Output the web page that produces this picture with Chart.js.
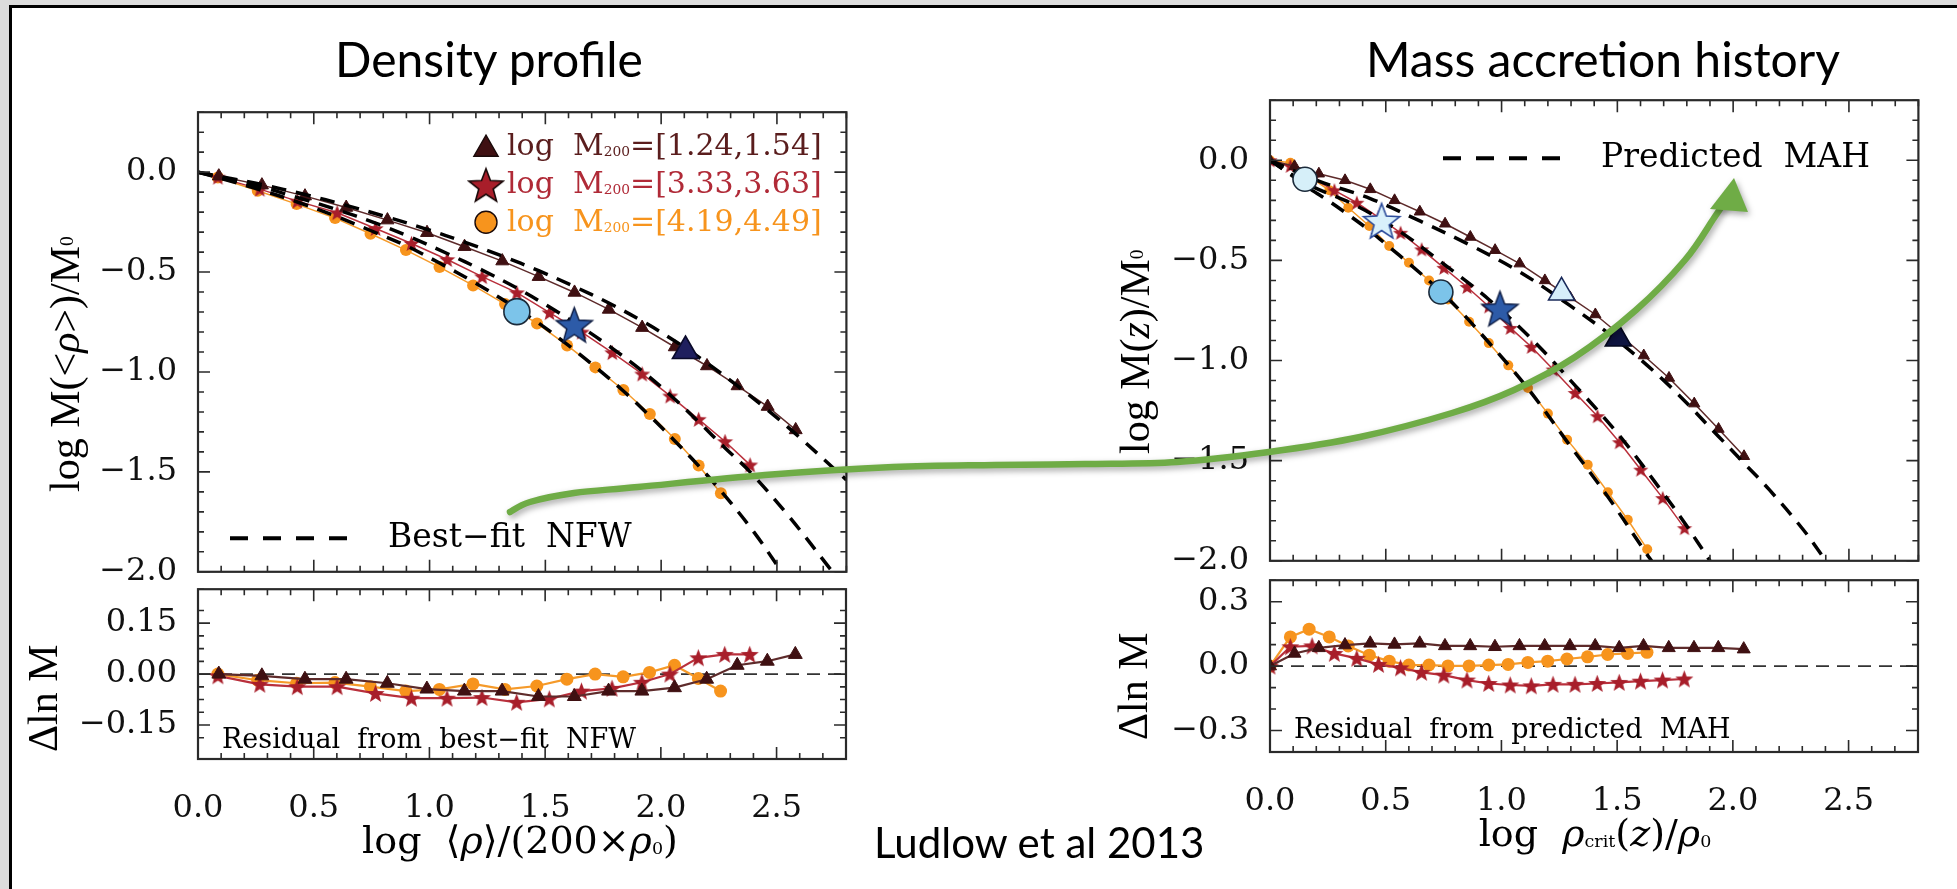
<!DOCTYPE html>
<html>
<head>
<meta charset="utf-8">
<title>Ludlow et al 2013 - density profile vs mass accretion history</title>
<script src="https://cdn.jsdelivr.net/npm/chart.js@4.4.1/dist/chart.umd.min.js"></script>
<style>
  html, body { margin: 0; padding: 0; background: #dcdcdc; overflow: hidden; width: 1957px; height: 889px; }
  #page { position: absolute; left: 9px; top: 5px; width: 1970px; height: 900px; background: #fff; border: 3px solid #000; }
  canvas.panel { position: absolute; z-index: 1; }
  #arrow { position: absolute; left: 0; top: 0; z-index: 3; pointer-events: none; }
  .t { position: absolute; white-space: nowrap; line-height: 1; z-index: 2; color: #000; }
  .sans { font-family: Lato, "Noto Sans", sans-serif; }
  .serif { font-family: "DejaVu Serif", serif; }
  .times { font-family: "Liberation Serif", serif; }
  .sb { font-size: 0.46em; line-height: 0; vertical-align: -0.08em; }
  /* vertical titles: fixed 400px run, text centred in it, reading bottom to top */
  .vt { writing-mode: vertical-rl; transform: rotate(180deg); height: 400px; text-align: center; }
</style>
</head>
<body>
<div id="page"></div>

<canvas id="densMain" class="panel" style="left:68px;top:102px" width="788" height="472"></canvas>
<canvas id="densRes" class="panel" style="left:68px;top:579px" width="788" height="260"></canvas>
<canvas id="mahMain" class="panel" style="left:1140px;top:90px" width="788" height="473"></canvas>
<canvas id="mahRes" class="panel" style="left:1140px;top:570px" width="788" height="262"></canvas>
<canvas id="arrow" width="1957" height="889"></canvas>

<div class="t sans" style="left:489px;top:35px;font-size:48px;transform:translateX(-50%)">Density profile</div>
<div class="t sans" style="left:1603px;top:35px;font-size:48px;transform:translateX(-50%)">Mass accretion history</div>
<div class="t sans" style="left:874px;top:821px;font-size:42px">Ludlow et al 2013</div>

<div class="t serif" style="left:507px;top:130px;font-size:30px;color:#5a1d1d">log&nbsp; M<span class="sb">200</span>=[1.24,1.54]</div>
<div class="t serif" style="left:507px;top:168px;font-size:30px;color:#b02a37">log&nbsp; M<span class="sb">200</span>=[3.33,3.63]</div>
<div class="t serif" style="left:507px;top:206px;font-size:30px;color:#f7941d">log&nbsp; M<span class="sb">200</span>=[4.19,4.49]</div>
<div class="t serif" style="left:388px;top:519px;font-size:33px">Best−fit&nbsp; NFW</div>
<div class="t serif" style="left:1601px;top:139px;font-size:33px">Predicted&nbsp; MAH</div>
<div class="t serif" style="left:222px;top:725px;font-size:27px">Residual&nbsp; from&nbsp; best−fit&nbsp; NFW</div>
<div class="t serif" style="left:1294px;top:715px;font-size:27px">Residual&nbsp; from&nbsp; predicted&nbsp; MAH</div>

<div class="t times vt" style="left:44px;top:164px;font-size:42px">log M(&lt;<i>ρ</i>&gt;)/M<span class="sb">0</span></div>
<div class="t times vt" style="left:22px;top:498px;font-size:42px">Δln M</div>
<div class="t times vt" style="left:1114px;top:152px;font-size:42px">log M(<i>z</i>)/M<span class="sb">0</span></div>
<div class="t times vt" style="left:1112px;top:486px;font-size:42px">Δln M</div>
<div class="t serif" style="left:520px;top:821px;font-size:38px;transform:translateX(-50%)">log&nbsp; ⟨<i>ρ</i>⟩/(200×<i>ρ</i><span class="sb">0</span>)</div>
<div class="t serif" style="left:1595px;top:814px;font-size:38px;transform:translateX(-50%)">log&nbsp; <i>ρ</i><span class="sb">crit</span>(<i>z</i>)/<i>ρ</i><span class="sb">0</span></div>

<script>
// ---------- Density profile (left) ----------
// triangles: log M200 = [1.24,1.54]
const densTriX   = [0.09, 0.276, 0.462, 0.64, 0.818, 0.989, 1.151, 1.314, 1.471, 1.626, 1.774, 1.918, 2.059, 2.198, 2.33, 2.46, 2.581];
const densTriY   = [-0.02, -0.065, -0.12, -0.177, -0.24, -0.303, -0.373, -0.445, -0.523, -0.602, -0.687, -0.778, -0.875, -0.97, -1.07, -1.173, -1.29];
const densTriRes = [0, -0.005, -0.015, -0.015, -0.027, -0.044, -0.05, -0.05, -0.066, -0.066, -0.05, -0.05, -0.04, -0.015, 0.026, 0.038, 0.058];
// stars: log M200 = [3.33,3.63]
const densStarX   = [0.086, 0.267, 0.429, 0.601, 0.767, 0.922, 1.076, 1.227, 1.377, 1.518, 1.657, 1.789, 1.918, 2.039, 2.162, 2.276, 2.384];
const densStarY   = [-0.025, -0.085, -0.145, -0.203, -0.282, -0.357, -0.437, -0.523, -0.603, -0.703, -0.80, -0.903, -1.01, -1.12, -1.237, -1.348, -1.465];
const densStarRes = [-0.005, -0.03, -0.037, -0.037, -0.057, -0.071, -0.071, -0.069, -0.083, -0.073, -0.05, -0.042, -0.024, 0, 0.048, 0.058, 0.058];
// circles: log M200 = [4.19,4.49]
const densDotX   = [0.086, 0.258, 0.426, 0.592, 0.745, 0.898, 1.043, 1.188, 1.326, 1.464, 1.594, 1.716, 1.837, 1.951, 2.059, 2.162, 2.258];
const densDotY   = [-0.027, -0.093, -0.16, -0.23, -0.308, -0.39, -0.475, -0.567, -0.66, -0.757, -0.867, -0.977, -1.09, -1.21, -1.335, -1.468, -1.607];
const densDotRes = [0, -0.018, -0.027, -0.025, -0.037, -0.05, -0.045, -0.029, -0.045, -0.035, -0.015, 0, -0.008, 0.005, 0.026, -0.013, -0.05];
// best-fit NFW curves (dashed)
const nfwTriX  = [0, 0.09, 0.276, 0.462, 0.64, 0.818, 0.989, 1.151, 1.314, 1.471, 1.626, 1.774, 1.918, 2.059, 2.198, 2.33, 2.46, 2.581, 2.8];
const nfwTriY  = [0, -0.02, -0.062, -0.112, -0.166, -0.225, -0.286, -0.35, -0.42, -0.493, -0.573, -0.655, -0.745, -0.845, -0.955, -1.07, -1.19, -1.31, -1.54];
const nfwStarX = [0, 0.086, 0.267, 0.429, 0.601, 0.767, 0.922, 1.076, 1.227, 1.377, 1.518, 1.657, 1.789, 1.918, 2.039, 2.162, 2.276, 2.384, 2.55, 2.74];
const nfwStarY = [0, -0.023, -0.072, -0.127, -0.188, -0.255, -0.327, -0.407, -0.49, -0.58, -0.675, -0.776, -0.882, -0.995, -1.115, -1.25, -1.38, -1.5, -1.72, -2.0];
const nfwDotX  = [0, 0.086, 0.258, 0.426, 0.592, 0.745, 0.898, 1.043, 1.188, 1.326, 1.464, 1.594, 1.716, 1.837, 1.951, 2.059, 2.162, 2.258, 2.4, 2.52];
const nfwDotY  = [0, -0.027, -0.085, -0.148, -0.219, -0.292, -0.368, -0.455, -0.548, -0.645, -0.75, -0.862, -0.975, -1.095, -1.22, -1.345, -1.47, -1.595, -1.8, -2.0];
// highlighted haloes (circle, star, triangle)
const densHiX = [1.377, 1.625, 2.105];
const densHiY = [-0.698, -0.765, -0.895];

// ---------- Mass accretion history (right) ----------
const mahTriX   = [0, 0.106, 0.211, 0.324, 0.433, 0.538, 0.647, 0.756, 0.865, 0.972, 1.078, 1.187, 1.296, 1.405, 1.509, 1.614, 1.723, 1.832, 1.937, 2.047];
const mahTriY   = [0, -0.03, -0.067, -0.1, -0.145, -0.2, -0.257, -0.317, -0.383, -0.449, -0.516, -0.6, -0.685, -0.77, -0.87, -0.975, -1.087, -1.215, -1.342, -1.478];
const mahTriRes = [0, 0.059, 0.085, 0.098, 0.106, 0.101, 0.106, 0.094, 0.094, 0.09, 0.094, 0.094, 0.094, 0.094, 0.085, 0.094, 0.085, 0.085, 0.085, 0.079];
const mahStarX   = [0, 0.088, 0.182, 0.278, 0.375, 0.469, 0.564, 0.655, 0.751, 0.851, 0.945, 1.038, 1.129, 1.223, 1.318, 1.414, 1.509, 1.601, 1.696, 1.79];
const mahStarY   = [0, -0.028, -0.09, -0.15, -0.212, -0.285, -0.362, -0.445, -0.537, -0.633, -0.73, -0.837, -0.932, -1.045, -1.162, -1.278, -1.408, -1.545, -1.687, -1.837];
const mahStarRes = [0, 0.09, 0.094, 0.059, 0.036, 0.008, -0.008, -0.029, -0.042, -0.065, -0.081, -0.088, -0.092, -0.085, -0.085, -0.081, -0.076, -0.07, -0.065, -0.06];
const mahDotX   = [0, 0.088, 0.169, 0.256, 0.338, 0.429, 0.515, 0.6, 0.687, 0.769, 0.86, 0.945, 1.029, 1.114, 1.2, 1.283, 1.372, 1.459, 1.545, 1.629];
const mahDotY   = [0, -0.012, -0.08, -0.15, -0.237, -0.328, -0.428, -0.512, -0.6, -0.695, -0.806, -0.913, -1.024, -1.137, -1.265, -1.395, -1.52, -1.658, -1.795, -1.942];
const mahDotRes = [0, 0.136, 0.172, 0.136, 0.094, 0.051, 0.023, 0.005, 0.005, 0.001, 0.001, 0.005, 0.008, 0.017, 0.023, 0.033, 0.043, 0.054, 0.059, 0.064];
// predicted MAH curves (dashed)
const predTriX  = [0, 0.211, 0.433, 0.647, 0.865, 1.078, 1.296, 1.509, 1.723, 1.937, 2.047, 2.156, 2.303, 2.4];
const predTriY  = [0, -0.104, -0.191, -0.303, -0.424, -0.557, -0.726, -0.907, -1.124, -1.379, -1.512, -1.645, -1.845, -2.0];
const predStarX = [0, 0.088, 0.182, 0.375, 0.564, 0.751, 0.945, 1.129, 1.318, 1.509, 1.696, 1.79, 1.9];
const predStarY = [0, -0.067, -0.131, -0.228, -0.358, -0.519, -0.695, -0.892, -1.125, -1.375, -1.659, -1.81, -2.0];
const predDotX  = [0, 0.088, 0.169, 0.256, 0.338, 0.429, 0.515, 0.6, 0.769, 0.945, 1.114, 1.283, 1.459, 1.629, 1.648];
const predDotY  = [0, -0.07, -0.14, -0.205, -0.272, -0.35, -0.433, -0.515, -0.69, -0.91, -1.14, -1.405, -1.68, -1.97, -2.0];
// highlighted haloes: early (light) and late (dark) epochs
const mahHiLightX = [0.151, 0.482, 1.259];
const mahHiLightY = [-0.095, -0.303, -0.66];
const mahHiDarkX  = [0.738, 0.993, 1.504];
const mahHiDarkY  = [-0.658, -0.742, -0.89];

// zero line of the residual panels
const zeroX = [0, 2.8];
const zeroY = [0, 0];

// labelled tick values
const xTickVals      = [0, 0.5, 1.0, 1.5, 2.0, 2.5];
const mainYTickVals  = [0, -0.5, -1.0, -1.5, -2.0];
const densResTickVals = [0.15, 0, -0.15];
const mahResTickVals  = [0.3, 0, -0.3];

// green arrow (page pixels, decoration only)
const ARROW_PATH = [[510, 512], [530, 502], [574, 493], [638, 487], [765, 475], [893, 467], [995, 465], [1085, 464],
  [1177, 462], [1269, 452], [1360, 437], [1452, 413], [1514, 390], [1575, 357], [1636, 310], [1685, 260], [1714, 218], [1724, 203]];
const ARROW_HEAD = [[1734, 178], [1710, 209], [1748, 212]];

/* colours */
const C = {
  tri: '#3f1012', triLine: '#5e2b2b',
  star: '#a81e2a', starLine: '#b9303c',
  dot: '#f7941d', dotLine: '#f59a2a',
};

/* helpers */
const pts = (xs, ys) => xs.map((x, i) => ({ x, y: ys[i] }));
const near = (v, list) => list.some(t => Math.abs(t - v) < 1e-6);
const fmtTick = (v, dec) => (Math.abs(v) < 1e-9 ? (0).toFixed(dec) : (v < 0 ? '−' : '') + Math.abs(v).toFixed(dec));

function starImg(r, fill, stroke, lw) {
  const s = Math.ceil(2 * r + 2 * lw + 2);
  const c = document.createElement('canvas');
  c.width = c.height = s;
  const g = c.getContext('2d');
  g.translate(s / 2, s / 2 + r * 0.08);
  g.beginPath();
  for (let k = 0; k < 10; k += 1) {
    const a = -Math.PI / 2 + k * Math.PI / 5;
    const rr = k % 2 ? r * 0.42 : r;
    g.lineTo(Math.cos(a) * rr, Math.sin(a) * rr);
  }
  g.closePath();
  g.fillStyle = fill; g.fill();
  if (lw) { g.lineWidth = lw; g.strokeStyle = stroke; g.lineJoin = 'miter'; g.stroke(); }
  return c;
}

const starSmall  = starImg(8.5, C.star, C.star, 0);
const starMah    = starImg(8, C.star, C.star, 0);
const starRes    = starImg(9.5, C.star, C.star, 0);
const starLegend = starImg(18, '#a81e2a', '#1a0a0a', 1.6);
const starBlue   = starImg(19, '#2d5ba8', '#0c1a40', 1.4);
const starLight  = starImg(19, '#d9f0fb', '#2b4b9b', 1.6);

function series(xs, ys, kind, opts) {
  const o = opts || {};
  const base = { data: pts(xs, ys), showLine: true, tension: 0, borderWidth: o.lw || 1.5, order: 2 };
  if (kind === 'tri') return Object.assign(base, { borderColor: C.triLine, pointStyle: 'triangle', pointRadius: o.r || 7.5, pointBackgroundColor: C.tri, pointBorderColor: C.tri, pointBorderWidth: 1 });
  if (kind === 'star') return Object.assign(base, { borderColor: C.starLine, pointStyle: o.img || starSmall, pointRadius: 8 });
  return Object.assign(base, { borderColor: C.dotLine, pointStyle: 'circle', pointRadius: o.r || 6, pointBackgroundColor: C.dot, pointBorderColor: C.dot, pointBorderWidth: 0 });
}
function dashed(xs, ys) {
  return { data: pts(xs, ys), showLine: true, tension: 0.35, borderColor: '#000', borderWidth: 3.5, borderDash: [15, 10], pointRadius: 0, clip: 0, order: 1 };
}
function zeroLine() {
  return { data: pts(zeroX, zeroY), showLine: true, borderColor: '#333', borderWidth: 1.6, borderDash: [13, 8], pointRadius: 0, order: 3 };
}
function highlight(xs, ys, looks) {
  return {
    data: pts(xs, ys), showLine: false, order: 0,
    pointStyle: looks.map(l => l.style), pointRadius: looks.map(l => l.r),
    pointBackgroundColor: looks.map(l => l.fill), pointBorderColor: looks.map(l => l.stroke), pointBorderWidth: 1.6,
  };
}

/* frame with inward ticks on all four sides (IDL style) */
const frameTicks = {
  id: 'frameTicks',
  afterDatasetsDraw(chart, args, opts) {
    const { ctx, chartArea: a, scales: { x, y } } = chart;
    const major = (v, step) => Math.abs(v / step - Math.round(v / step)) < 1e-6;
    ctx.save();
    ctx.strokeStyle = '#2a2a2a';
    ctx.lineWidth = 1.6;
    ctx.beginPath();
    x.ticks.forEach(t => {
      const p = x.getPixelForValue(t.value);
      const L = major(t.value, opts.xMajor) ? 12 : 6;
      ctx.moveTo(p, a.bottom); ctx.lineTo(p, a.bottom - L);
      ctx.moveTo(p, a.top); ctx.lineTo(p, a.top + L);
    });
    y.ticks.forEach(t => {
      const p = y.getPixelForValue(t.value);
      const L = major(t.value, opts.yMajor) ? 12 : 6;
      ctx.moveTo(a.left, p); ctx.lineTo(a.left + L, p);
      ctx.moveTo(a.right, p); ctx.lineTo(a.right - L, p);
    });
    ctx.stroke();
    ctx.lineWidth = 2.2;
    ctx.strokeRect(a.left, a.top, a.right - a.left, a.bottom - a.top);
    ctx.restore();
  }
};

function dashSample(ctx, x0, x1, y) {
  ctx.save();
  ctx.strokeStyle = '#000';
  ctx.lineWidth = 4;
  ctx.setLineDash([18, 15]);
  ctx.beginPath(); ctx.moveTo(x0, y); ctx.lineTo(x1, y); ctx.stroke();
  ctx.restore();
}

// move/resize a chart's canvas so that its plot area lands on the given page box
function pinArea(chart, box) {
  for (let k = 0; k < 2; k += 1) {
    const a = chart.chartArea;
    const l = a.left, t = a.top, r = chart.width - a.right, b = chart.height - a.bottom;
    chart.canvas.style.left = (box.x - l) + 'px';
    chart.canvas.style.top = (box.y - t) + 'px';
    chart.resize(Math.round(l + box.w + r), Math.round(t + box.h + b));
  }
}

const tickFont = { family: 'DejaVu Serif', size: 32 };

function makePanel(id, cfg) {
  const chart = new Chart(document.getElementById(id), {
    type: 'scatter',
    data: { datasets: cfg.datasets },
    options: {
      responsive: false, maintainAspectRatio: false, animation: false, events: [],
      layout: { padding: { top: 10, right: 10, left: 0, bottom: 0 } },
      plugins: { legend: { display: false }, tooltip: { enabled: false }, frameTicks: { xMajor: 0.5, yMajor: cfg.yMajor } },
      scales: {
        x: {
          type: 'linear', min: 0, max: 2.8,
          grid: { display: false }, border: { display: false },
          ticks: {
            stepSize: 0.1, autoSkip: false, maxTicksLimit: 1000, maxRotation: 0,
            display: cfg.xLabels, padding: 22, font: tickFont, color: '#111',
            callback: v => (near(v, xTickVals) ? fmtTick(v, 1) : ''),
          },
          afterFit: s => { s.height = cfg.xLabels ? 80 : 2; },
        },
        y: {
          type: 'linear', min: cfg.yMin, max: cfg.yMax,
          grid: { display: false }, border: { display: false },
          ticks: {
            stepSize: cfg.yStep, autoSkip: false, maxTicksLimit: 1000,
            padding: 13, font: tickFont, color: '#111',
            callback: v => (near(v, cfg.yTicks) ? fmtTick(v, cfg.yDec) : ''),
          },
          afterFit: s => { s.width = 130; },
        },
      },
    },
    plugins: [frameTicks].concat(cfg.extra || []),
  });
  pinArea(chart, cfg.area);
  return chart;
}

/* Density profile main panel */
makePanel('densMain', {
  area: { x: 198, y: 112, w: 648, h: 460 },
  yMin: -2.0, yMax: 0.3, yStep: 0.1, yMajor: 0.5, yDec: 1, yTicks: mainYTickVals, xLabels: false,
  datasets: [
    series(densTriX, densTriY, 'tri'),
    series(densStarX, densStarY, 'star'),
    series(densDotX, densDotY, 'dot'),
    dashed(nfwTriX, nfwTriY),
    dashed(nfwStarX, nfwStarY),
    dashed(nfwDotX, nfwDotY),
    highlight(densHiX, densHiY, [
      { style: 'circle', r: 13, fill: '#7cc4ea', stroke: '#1b2a3a' },
      { style: starBlue, r: 19, fill: '#2d5ba8', stroke: '#0c1a40' },
      { style: 'triangle', r: 15, fill: '#1f1f5e', stroke: '#0a0a2a' },
    ]),
  ],
  extra: [{
    id: 'densLegend',
    afterDraw(chart) {
      const { ctx, chartArea: a } = chart;
      const lx = a.left + 288;
      const H = Chart.helpers;
      ctx.save();
      ctx.lineWidth = 1.4;
      ctx.fillStyle = C.tri; ctx.strokeStyle = '#1a0a0a';
      H.drawPoint(ctx, { pointStyle: 'triangle', radius: 14, rotation: 0, borderWidth: 1.4 }, lx, a.top + 37);
      ctx.drawImage(starLegend, lx - starLegend.width / 2, a.top + 73 - starLegend.height / 2);
      ctx.fillStyle = C.dot; ctx.strokeStyle = '#1a0a0a';
      H.drawPoint(ctx, { pointStyle: 'circle', radius: 11, rotation: 0, borderWidth: 1.4 }, lx, a.top + 110);
      ctx.restore();
      dashSample(ctx, a.left + 32, a.left + 151, a.top + 426);
    }
  }],
});

/* Density profile residual panel */
makePanel('densRes', {
  area: { x: 198, y: 589, w: 648, h: 170 },
  yMin: -0.25, yMax: 0.25, yStep: 0.0375, yMajor: 0.15, yDec: 2, yTicks: densResTickVals, xLabels: true,
  datasets: [
    zeroLine(),
    series(densTriX, densTriRes, 'tri', { lw: 2.2, r: 8 }),
    series(densStarX, densStarRes, 'star', { lw: 2.2, img: starRes }),
    series(densDotX, densDotRes, 'dot', { lw: 2.2, r: 6.5 }),
  ],
});

/* Mass accretion history main panel */
makePanel('mahMain', {
  area: { x: 1270, y: 100, w: 648, h: 461 },
  yMin: -2.0, yMax: 0.3, yStep: 0.1, yMajor: 0.5, yDec: 1, yTicks: mainYTickVals, xLabels: false,
  datasets: [
    series(mahTriX, mahTriY, 'tri', { r: 6.5 }),
    series(mahStarX, mahStarY, 'star', { img: starMah }),
    series(mahDotX, mahDotY, 'dot', { r: 5 }),
    dashed(predTriX, predTriY),
    dashed(predStarX, predStarY),
    dashed(predDotX, predDotY),
    highlight(mahHiLightX, mahHiLightY, [
      { style: 'circle', r: 12, fill: '#d6eff9', stroke: '#1b2a3a' },
      { style: starLight, r: 19, fill: '#d9f0fb', stroke: '#2b4b9b' },
      { style: 'triangle', r: 15, fill: '#d6eefa', stroke: '#1a2a5a' },
    ]),
    highlight(mahHiDarkX, mahHiDarkY, [
      { style: 'circle', r: 12, fill: '#7cc4ea', stroke: '#1b2a3a' },
      { style: starBlue, r: 19, fill: '#2d5ba8', stroke: '#0c1a40' },
      { style: 'triangle', r: 15, fill: '#0e1440', stroke: '#050820' },
    ]),
  ],
  extra: [{
    id: 'mahLegend',
    afterDraw(chart) {
      const { ctx, chartArea: a } = chart;
      dashSample(ctx, a.left + 173, a.left + 290, a.top + 58);
    }
  }],
});

/* Mass accretion history residual panel */
makePanel('mahRes', {
  area: { x: 1270, y: 580, w: 648, h: 172 },
  yMin: -0.4, yMax: 0.4, yStep: 0.1, yMajor: 0.3, yDec: 1, yTicks: mahResTickVals, xLabels: true,
  datasets: [
    zeroLine(),
    series(mahTriX, mahTriRes, 'tri', { lw: 2.2, r: 7.5 }),
    series(mahStarX, mahStarRes, 'star', { lw: 2.2, img: starRes }),
    series(mahDotX, mahDotRes, 'dot', { lw: 2.2, r: 6.5 }),
  ],
});

/* overlay: green arrow linking the two panels */
new Chart(document.getElementById('arrow'), {
  type: 'scatter',
  data: { datasets: [] },
  options: {
    responsive: false, animation: false, events: [],
    layout: { padding: 0 },
    plugins: { legend: { display: false }, tooltip: { enabled: false } },
    scales: {
      x: { display: false, min: 0, max: 1957 },
      y: { display: false, min: 0, max: 889, reverse: true },
    },
  },
  plugins: [{
    id: 'greenArrow',
    afterDraw(chart) {
      const { ctx, scales: { x, y } } = chart;
      const P = ARROW_PATH.map(([px, py]) => [x.getPixelForValue(px), y.getPixelForValue(py)]);
      const head = ARROW_HEAD.map(([px, py]) => [x.getPixelForValue(px), y.getPixelForValue(py)]);
      ctx.save();
      ctx.shadowColor = 'rgba(0,0,0,0.35)';
      ctx.shadowBlur = 6; ctx.shadowOffsetX = 2; ctx.shadowOffsetY = 3;
      ctx.strokeStyle = '#6fac46'; ctx.fillStyle = '#6fac46';
      ctx.lineWidth = 6.5; ctx.lineCap = 'round'; ctx.lineJoin = 'round';
      ctx.beginPath();
      ctx.moveTo(P[0][0], P[0][1]);
      for (let i = 0; i < P.length - 1; i += 1) {
        const p0 = P[Math.max(0, i - 1)], p1 = P[i], p2 = P[i + 1], p3 = P[Math.min(P.length - 1, i + 2)];
        ctx.bezierCurveTo(
          p1[0] + (p2[0] - p0[0]) / 6, p1[1] + (p2[1] - p0[1]) / 6,
          p2[0] - (p3[0] - p1[0]) / 6, p2[1] - (p3[1] - p1[1]) / 6,
          p2[0], p2[1]);
      }
      ctx.stroke();
      ctx.beginPath();
      ctx.moveTo(head[0][0], head[0][1]);
      ctx.lineTo(head[1][0], head[1][1]);
      ctx.lineTo(head[2][0], head[2][1]);
      ctx.closePath();
      ctx.fill();
      ctx.restore();
    }
  }],
});
</script>
</body>
</html>
